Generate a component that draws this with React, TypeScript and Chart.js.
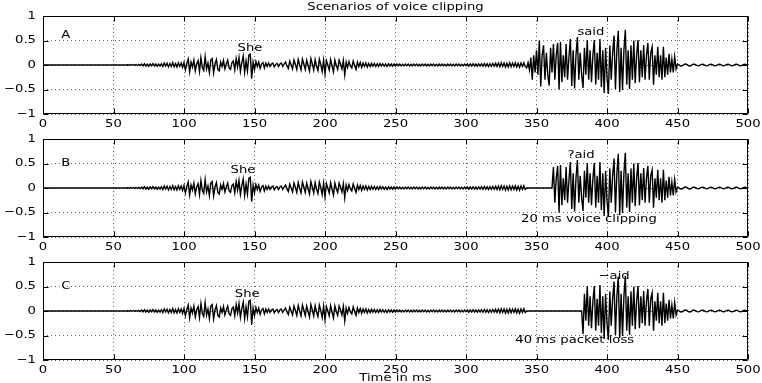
import React, { useEffect, useRef } from 'react';
import { Chart, registerables } from 'chart.js';

Chart.register(...registerables);

// ---------- axes ----------
const X_MIN = 0;
const X_MAX = 500;
const X_STEP = 50;
const Y_MIN = -1;
const Y_MAX = 1;
const Y_STEP = 0.5;
const X_TICK_LABELS = ['0', '50', '100', '150', '200', '250', '300', '350', '400', '450', '500'];
const Y_TICK_LABELS = ['\u22121', '\u22120.5', '0', '0.5', '1'];

// ---------- texts ----------
const TITLE = 'Scenarios of voice clipping';
const X_TITLE = 'Time in ms';
const PANEL_LETTERS = ['A', 'B', 'C'];
const FIRST_WORDS = ['She', 'She', 'She'];
const SECOND_WORDS = ['said', '?aid', '\u2212aid'];
const NOTES = ['', '20 ms voice clipping', '40 ms packet loss'];

// ---------- waveform samples (1 ms apart) ----------
const LEAD_SILENCE_END = 59;

const ONSET_START = 60; // 60..99
const onset = [
  0.005, -0.005, 0.008, -0.006, 0.01, -0.008, 0.01, -0.01, 0.012, -0.01,
  0.02, -0.015, 0.025, -0.02, 0.015, -0.025, 0.02, -0.015, 0.03, -0.02, 0.02, -0.025, 0.015, -0.02, 0.025,
  -0.03, 0.04, -0.02, 0.035, -0.04, 0.03, -0.03, 0.05, -0.035, 0.03, -0.04, 0.045, -0.03, 0.04, -0.05,
];

const SHE_START = 100; // 100..171
const she = [
  0.05, -0.1, 0.03, 0.12, -0.14, 0.06, -0.04, 0.1, -0.12, 0.02, 0.09, -0.13,
  0.15, -0.05, -0.11, 0.17, -0.08, 0.04, -0.15, 0.1, 0.13, -0.16, 0.02, 0.11, -0.09, -0.12,
  0.06, -0.03, 0.09, -0.08, 0.02, 0.1, -0.06, -0.09, 0.05, 0.08,
  -0.1, 0.13, -0.04, 0.15, -0.13, 0.05, 0.18, -0.15, 0.08, -0.12, 0.2, 0.22, -0.28, 0.06,
  -0.09, 0.07, -0.03, 0.06, -0.07, 0.02, 0.05, -0.06, 0.04, -0.03,
  0.04, -0.03, 0.02, 0.04, -0.04, 0.01, 0.03, -0.03, 0.02, 0.04, -0.03, 0.02,
];

const VOICED_START = 172; // 172..250
const voiced = [
  0.06, -0.02, -0.07, 0.08, 0.0, -0.08, 0.1, 0.01, -0.09, 0.11,
  0.0, -0.1, 0.12, 0.02, -0.09, 0.1, -0.01, -0.12, 0.13, 0.02,
  -0.1, 0.11, -0.02, -0.11, 0.12, 0.01, -0.13, 0.1, -0.18, 0.09,
  0.0, -0.1, 0.11, -0.02,
  -0.14, 0.1, -0.01, -0.09, 0.1, 0.02, -0.08, 0.09, -0.2, 0.06,
  -0.05, 0.07, -0.02, -0.06, 0.08, -0.01, -0.09, 0.06, -0.03, 0.05,
  -0.05, 0.04, -0.03, 0.04, -0.04,
  0.03, -0.03, 0.035, -0.025, 0.03, -0.03, 0.025, -0.03, 0.03, -0.02,
  0.025, -0.025, 0.02, -0.03, 0.025, -0.02, 0.02, -0.025, 0.02, -0.02,
];

const QUIET_START = 251; // 251..343
const quiet = [
  0.02, -0.015, 0.018, -0.02, 0.015, -0.018, 0.02, -0.015, 0.018, -0.02,
  0.015, -0.018, 0.02, -0.015, 0.018, -0.02, 0.015, -0.018, 0.02, -0.015,
  0.018, -0.02, 0.015, -0.018, 0.02, -0.015, 0.018, -0.02, 0.015, -0.018,
  0.02, -0.015, 0.018, -0.02, 0.015, -0.018, 0.02, -0.015, 0.018, -0.02,
  0.015, -0.018, 0.02, -0.015, 0.018, -0.02, 0.015, -0.018, 0.02, -0.015,
  0.02, -0.025, 0.022, -0.02, 0.025, -0.022, 0.02, -0.025, 0.022, -0.02,
  0.025, -0.025, 0.03, -0.025, 0.025, -0.03, 0.025, -0.025, 0.03, -0.025,
  0.035, -0.03, 0.04, -0.035, 0.045, -0.03, 0.04, -0.045, 0.035, -0.04,
  0.045, -0.035, 0.04, -0.03, 0.045, -0.04, 0.035, -0.045, 0.04, -0.03,
  0.045, -0.03, -0.06,
];

const SAID_START = 344; // 344..449
const said = [
  0.05, -0.1, 0.15, -0.3, 0.2, -0.15, 0.3, -0.2, 0.5, -0.44,
  0.2, 0.4, -0.3, 0.25, -0.2, -0.42, 0.35, -0.15, 0.43, -0.3,
  0.2, 0.45, -0.5, 0.47, -0.35, 0.2, -0.25, 0.43, -0.3, 0.15,
  0.53, -0.43, 0.3, -0.48, 0.2, 0.57, -0.3, 0.25, -0.2, -0.47,
  0.35, -0.2, 0.51, -0.3, 0.3, -0.35, 0.2, 0.51, -0.4, 0.25,
  -0.3, 0.53, -0.45, 0.3, -0.57, 0.35, -0.25, -0.59, 0.4, -0.3,
  0.25, 0.6, -0.49, 0.3, 0.7, -0.55, 0.35, -0.51, 0.3, 0.72,
  -0.4, 0.3, -0.49, 0.4, -0.3, 0.5, -0.37, 0.2, 0.51, -0.35,
  0.3, -0.25, 0.41, -0.3, 0.2, 0.45, -0.3, 0.25, 0.37, -0.4,
  0.2, -0.2, 0.37, -0.25, 0.2, -0.3, 0.37, -0.25, 0.15, -0.2,
  0.23, -0.15, 0.12, -0.15, 0.17, -0.08,
];

const TAIL_START = 450; // 450..500
const tail = [
  0.02, 0.005, -0.015, -0.02, -0.005, 0.015, 0.02, 0.005, -0.015, -0.02,
  -0.005, 0.015, 0.018, 0.004, -0.014, -0.018, -0.004, 0.014, 0.018, 0.004,
  -0.014, -0.018, -0.004, 0.014, 0.016, 0.003, -0.013, -0.016, -0.003, 0.013,
  0.016, 0.003, -0.013, -0.016, -0.003, 0.012, 0.015, 0.003, -0.012, -0.015,
  -0.003, 0.012, 0.015, 0.003, -0.012, -0.015, -0.003, 0.012, 0.014, 0.003, -0.01,
];

// samples removed in scenario B / C
const CLIP_START = 343;
const CLIP_ENDS = [0, 362, 383];

// ---------- layout / style (not data) ----------
const W = 762;
const PANEL_STEP = 123;
const PLOT_TOP = 16;
const PLOT_H = 98;
const PLOT_LEFT = 43;
const PLOT_RIGHT_PAD = 14;
const FONT = '"DejaVu Sans", sans-serif';
const FONT_SIZE = 11;
const H_SCALE = 1.2;
const TICK_LEN = 5;

type Note = { text: string; x: number; y: number };
const LETTER_POS = [{ x: 13, y: 0.6 }, { x: 13, y: 0.5 }, { x: 13, y: 0.5 }];
const FIRST_POS = [{ x: 138, y: 0.34 }, { x: 133, y: 0.37 }, { x: 136, y: 0.35 }];
const SECOND_POS = [{ x: 379, y: 0.68 }, { x: 372, y: 0.68 }, { x: 394, y: 0.72 }];
const NOTE_POS = [{ x: 0, y: 0 }, { x: 339, y: -0.63 }, { x: 335, y: -0.6 }];

function buildWave(): { x: number; y: number }[] {
  const pts: { x: number; y: number }[] = [
    { x: X_MIN, y: 0 },
    { x: LEAD_SILENCE_END, y: 0 },
  ];
  const segs: [number, number[]][] = [
    [ONSET_START, onset],
    [SHE_START, she],
    [VOICED_START, voiced],
    [QUIET_START, quiet],
    [SAID_START, said],
    [TAIL_START, tail],
  ];
  for (const [start, vals] of segs) {
    vals.forEach((v, i) => pts.push({ x: start + i, y: v }));
  }
  return pts;
}

function clipWave(pts: { x: number; y: number }[], from: number, to: number) {
  return pts.map((p) => (p.x >= from && p.x < to ? { x: p.x, y: 0 } : p));
}

function drawText(
  ctx: CanvasRenderingContext2D,
  text: string,
  x: number,
  y: number,
  align: CanvasTextAlign,
) {
  ctx.save();
  ctx.font = `${FONT_SIZE}px ${FONT}`;
  ctx.fillStyle = '#000';
  ctx.textBaseline = 'middle';
  ctx.textAlign = align;
  ctx.translate(x, y);
  ctx.scale(H_SCALE, 1);
  ctx.fillText(text, 0, 0);
  ctx.restore();
}

function Panel({ index, top, height, last }: { index: number; top: number; height: number; last: boolean }) {
  const ref = useRef<HTMLCanvasElement>(null);
  useEffect(() => {
    const base = buildWave();
    const data = index === 0 ? base : clipWave(base, CLIP_START, CLIP_ENDS[index]);
    const texts: Note[] = [
      { text: PANEL_LETTERS[index], ...LETTER_POS[index] },
      { text: FIRST_WORDS[index], ...FIRST_POS[index] },
      { text: SECOND_WORDS[index], ...SECOND_POS[index] },
    ];
    if (NOTES[index]) texts.push({ text: NOTES[index], ...NOTE_POS[index] });

    const framePlugin = {
      id: 'frame',
      afterDraw(chart: any) {
        const { ctx, chartArea: a } = chart;
        const xs = chart.scales.x;
        const ys = chart.scales.y;
        ctx.save();
        ctx.strokeStyle = '#000';
        ctx.lineWidth = 1;
        const L = Math.round(a.left) + 0.5;
        const R = Math.round(a.right) - 0.5;
        const T = Math.round(a.top) + 0.5;
        const B = Math.round(a.bottom) - 0.5;
        ctx.beginPath();
        ctx.rect(L, T, R - L, B - T);
        ctx.stroke();
        ctx.beginPath();
        xs.ticks.forEach((t: any) => {
          const px = Math.round(xs.getPixelForValue(t.value)) + 0.5;
          ctx.moveTo(px, B);
          ctx.lineTo(px, B - TICK_LEN);
          ctx.moveTo(px, T);
          ctx.lineTo(px, T + TICK_LEN);
        });
        ys.ticks.forEach((t: any) => {
          const py = Math.round(ys.getPixelForValue(t.value)) + 0.5;
          ctx.moveTo(L, py);
          ctx.lineTo(L + TICK_LEN, py);
          ctx.moveTo(R, py);
          ctx.lineTo(R - TICK_LEN, py);
        });
        ctx.stroke();
        ctx.restore();

        xs.ticks.forEach((t: any, i: number) => {
          drawText(ctx, X_TICK_LABELS[i] ?? String(t.value), xs.getPixelForValue(t.value), a.bottom + 10, 'center');
        });
        ys.ticks.forEach((t: any, i: number) => {
          drawText(ctx, Y_TICK_LABELS[i] ?? String(t.value), a.left - 7, ys.getPixelForValue(t.value), 'right');
        });
        texts.forEach((n) => {
          drawText(ctx, n.text, xs.getPixelForValue(n.x), ys.getPixelForValue(n.y), 'left');
        });
        if (index === 0) drawText(ctx, TITLE, (a.left + a.right) / 2, 7, 'center');
        if (last) drawText(ctx, X_TITLE, (a.left + a.right) / 2, a.bottom + 18, 'center');
      },
    };

    const gridStyle = { color: 'rgba(0,0,0,0.6)', lineWidth: 1, drawTicks: false };
    const chart = new Chart(ref.current as HTMLCanvasElement, {
      type: 'line',
      data: {
        datasets: [
          {
            data,
            borderColor: '#000',
            borderWidth: 1.4,
            pointRadius: 0,
            tension: 0,
            fill: false,
          },
        ],
      },
      options: {
        animation: false,
        responsive: false,
        maintainAspectRatio: false,
        events: [],
        layout: { padding: { top: PLOT_TOP, right: PLOT_RIGHT_PAD, left: 0, bottom: 0 } },
        plugins: { legend: { display: false }, tooltip: { enabled: false }, title: { display: false } },
        scales: {
          x: {
            type: 'linear',
            min: X_MIN,
            max: X_MAX,
            ticks: { stepSize: X_STEP, display: false },
            grid: gridStyle,
            border: { display: false, dash: [1, 3] },
            afterFit: (s: any) => {
              s.height = height - PLOT_TOP - PLOT_H;
            },
          },
          y: {
            type: 'linear',
            min: Y_MIN,
            max: Y_MAX,
            ticks: { stepSize: Y_STEP, display: false },
            grid: gridStyle,
            border: { display: false, dash: [1, 3] },
            afterFit: (s: any) => {
              s.width = PLOT_LEFT;
            },
          },
        },
      } as any,
      plugins: [framePlugin],
    });
    return () => chart.destroy();
  }, [index, height, last]);
  return (
    <canvas
      ref={ref}
      width={W}
      height={height}
      style={{ position: 'absolute', left: 0, top, width: W, height }}
    />
  );
}

export default function App() {
  return (
    <div style={{ position: 'fixed', left: 0, top: 0, width: W, height: 383, background: '#fff', overflow: 'hidden' }}>
      <Panel index={0} top={0} height={135} last={false} />
      <Panel index={1} top={PANEL_STEP} height={135} last={false} />
      <Panel index={2} top={PANEL_STEP * 2} height={137} last={true} />
    </div>
  );
}
